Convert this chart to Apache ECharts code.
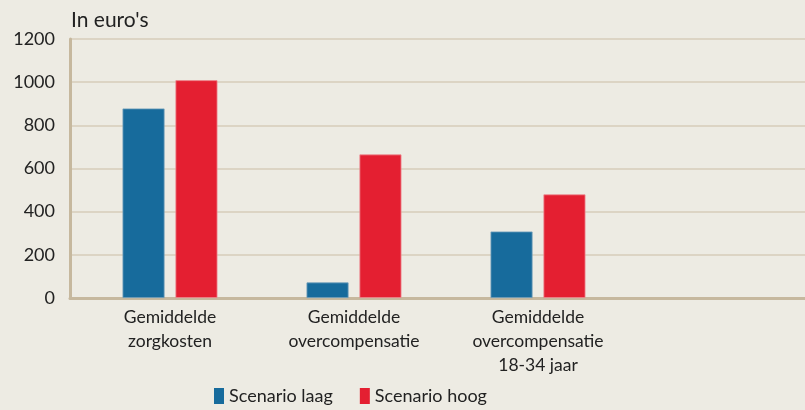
<!DOCTYPE html>
<html><head><meta charset="utf-8">
<script src="https://cdn.jsdelivr.net/npm/echarts@6/dist/echarts.min.js"></script>
<style>html,body{margin:0;padding:0;background:#EDEBE3;}#c{width:805px;height:410px;}</style>
</head><body><div id="c"></div>
<script>
const categories = ['Gemiddelde\nzorgkosten', 'Gemiddelde\novercompensatie', 'Gemiddelde\novercompensatie\n18-34 jaar'];
const scenarioLaag = [878, 72, 308];
const scenarioHoog = [1009, 665, 480];
const seriesNames = ['Scenario laag', 'Scenario hoog'];
const yTicks = { min: 0, max: 1200, interval: 200 };
const unitLabel = "In euro's";

const FONT = 'Lato';
const chart = echarts.init(document.getElementById('c'), null, { renderer: 'canvas' });
chart.setOption({
  backgroundColor: '#EDEBE3',
  animation: false,
  textStyle: { fontFamily: FONT },
  title: { text: unitLabel, left: 66, top: 5, textStyle: { fontFamily: FONT, fontSize: 21, fontWeight: 'normal', color: '#222' } },
  legend: {
    left: 209, top: 382, itemWidth: 10, itemHeight: 16, itemGap: 27,
    icon: 'rect',
    itemStyle: { borderWidth: 0 },
    textStyle: { fontFamily: FONT, fontSize: 18, color: '#222' },
    data: seriesNames
  },
  grid: [
    { left: 70, right: 0, top: 39, bottom: 112 },
    { left: 78, right: 175, top: 39, bottom: 112 }
  ],
  xAxis: [
    { gridIndex: 0, type: 'category', data: [''], axisTick: { show: false }, axisLabel: { show: false },
      axisLine: { lineStyle: { color: '#C6B89E', width: 3 } } },
    { gridIndex: 1, type: 'category', data: categories, axisTick: { show: false }, axisLine: { show: false },
      axisLabel: { fontFamily: FONT, fontSize: 17.5, lineHeight: 24, color: '#222', margin: 7, interval: 0 } }
  ],
  yAxis: [
    { gridIndex: 0, type: 'value', min: yTicks.min, max: yTicks.max, interval: yTicks.interval,
      axisLine: { show: true, lineStyle: { color: '#C6B89E', width: 3 } },
      axisTick: { show: false },
      axisLabel: { fontFamily: FONT, fontSize: 18, color: '#222', margin: 15, formatter: v => String(v) },
      splitLine: { lineStyle: { color: '#D6CCBA', width: 1.5 } } },
    { gridIndex: 1, type: 'value', min: yTicks.min, max: yTicks.max, interval: yTicks.interval, show: false,
      splitLine: { show: false } }
  ],
  series: [
    { name: seriesNames[0], type: 'bar', xAxisIndex: 1, yAxisIndex: 1, data: scenarioLaag,
      barWidth: 42, barGap: '26%',
      itemStyle: { color: '#176B9C', borderColor: '#6E9DBB', borderWidth: 0.8 } },
    { name: seriesNames[1], type: 'bar', xAxisIndex: 1, yAxisIndex: 1, data: scenarioHoog,
      barWidth: 42,
      itemStyle: { color: '#E41F31', borderColor: '#EE8A90', borderWidth: 0.8 } }
  ]
});
</script></body></html>
